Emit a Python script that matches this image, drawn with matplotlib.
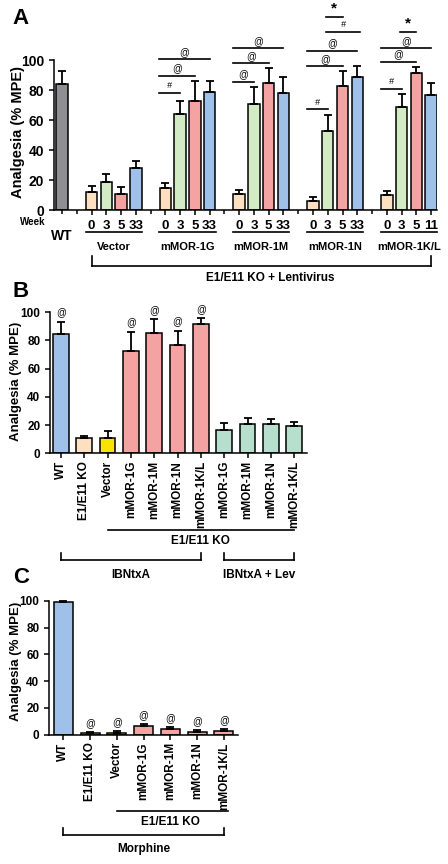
import matplotlib
matplotlib.use('Agg')
import matplotlib.pyplot as plt
import numpy as np
from matplotlib.transforms import blended_transform_factory

plt.rcParams['font.family'] = ['Liberation Sans', 'DejaVu Sans']
plt.rcParams['font.weight'] = 'bold'
plt.rcParams['axes.linewidth'] = 1.1

W, H = 448, 864

# ---------------- panel A data ----------------
groups_a = ["Vector", "mMOR-1G", "mMOR-1M", "mMOR-1N", "mMOR-1K/L"]
weeks = ["0", "3", "5", "33"]
weeks_kl = ["0", "3", "5", "11"]
wt_a_mean = 84
wt_a_err = 9
vec_mean = [12, 19, 11, 28]
vec_err = [4, 5, 4.5, 5]
g1_mean = [15, 64, 72.5, 79]
g1_err = [3, 9, 13.5, 7]
m1_mean = [11, 71, 85, 78]
m1_err = [2.5, 11, 10, 11]
n1_mean = [6, 52.5, 83, 89]
n1_err = [3, 11, 10, 7]
kl_mean = [10, 69, 91.5, 77]
kl_err = [2.5, 8.5, 4, 7.5]
# significance: (group, from bar, to bar, level, symbol)
sig_a = [
    (1, 0, 1, 78.2, "#"), (1, 0, 2, 89.5, "@"), (1, 0, 3, 100.4, "@"),
    (2, 0, 1, 85.5, "@"), (2, 0, 2, 97.8, "@"), (2, 0, 3, 107.8, "@"),
    (3, 0, 1, 67.1, "#"), (3, 0, 2, 96.0, "@"), (3, 0, 3, 106.2, "@"),
    (3, 1, 3, 118.9, "#"), (3, 1, 2, 128.4, "*"),
    (4, 0, 1, 80.9, "#"), (4, 0, 2, 98.9, "@"), (4, 0, 3, 107.8, "@"),
    (4, 1, 2, 118.4, "*"),
]

# ---------------- panel B data ----------------
labels_b = ["WT", "E1/E11 KO", "Vector", "mMOR-1G", "mMOR-1M", "mMOR-1N", "mMOR-1K/L",
            "mMOR-1G", "mMOR-1M", "mMOR-1N", "mMOR-1K/L"]
mean_b = [84.4, 11, 11, 72.8, 85.1, 77, 91.7, 16.5, 20.6, 20.6, 19.4]
err_b = [9, 1.5, 4.8, 13.4, 10.1, 10, 4, 4.8, 4.7, 3.5, 3]
at_b = [True, False, False, True, True, True, True, False, False, False, False]

# ---------------- panel C data ----------------
labels_c = ["WT", "E1/E11 KO", "Vector", "mMOR-1G", "mMOR-1M", "mMOR-1N", "mMOR-1K/L"]
mean_c = [99, 1.2, 1.5, 6.5, 4.2, 2, 2.8]
err_c = [0.7, 0.8, 1.5, 1.5, 1.3, 1.3, 1.3]
at_c = [False, True, True, True, True, True, True]

grey = "#8e8e93"
peach = "#fde0bf"
green = "#d3ebc4"
salmon = "#f4a2a2"
blue = "#9fc0e8"
yellow = "#f7e500"
mint = "#b6dfcd"
week_colors = [peach, green, salmon, blue]


def fy(y):
    return 1 - y / H


def add_ax(x0, y0, x1, y1):
    return fig.add_axes([x0 / W, 1 - y1 / H, (x1 - x0) / W, (y1 - y0) / H])


def style(ax, top=100):
    for s in ["top", "right"]:
        ax.spines[s].set_visible(False)
    ax.spines["left"].set_bounds(0, top)
    ax.tick_params(axis="both", length=3.5, width=1.1, direction="out")


def bars(ax, x, mean, err, colors, width):
    ax.bar(x, mean, width=width, color=colors, edgecolor="black", linewidth=1.1, zorder=2)
    ax.errorbar(x, mean, yerr=[np.zeros(len(mean)), err], fmt="none", ecolor="black",
                elinewidth=1.3, capsize=3, capthick=1.3, zorder=3, clip_on=False)


def hline(ax, x0, x1, ypx, ticks=None, lw=1.2):
    tr = blended_transform_factory(ax.transData, fig.transFigure)
    ax.plot([x0, x1], [fy(ypx), fy(ypx)], color="black", lw=lw, transform=tr, clip_on=False)
    if ticks is not None:
        for xx in (x0, x1):
            ax.plot([xx, xx], [fy(ypx), fy(ticks)], color="black", lw=lw, transform=tr,
                    clip_on=False)


def label(ax, x, ypx, text, size):
    tr = blended_transform_factory(ax.transData, fig.transFigure)
    ax.text(x, fy(ypx), text, transform=tr, ha="center", va="center", fontsize=size,
            fontweight="bold")


fig = plt.figure(figsize=(W / 100, H / 100), dpi=100)

# ================= A =================
axA = add_ax(54, 0, 437, 210)
means_a = [vec_mean, g1_mean, m1_mean, n1_mean, kl_mean]
errs_a = [vec_err, g1_err, m1_err, n1_err, kl_err]
bw = 0.78
bars(axA, [0], [wt_a_mean], [wt_a_err], [grey], bw)
xt, xl = [], []
for g in range(len(groups_a)):
    pos = np.arange(4) + 2 + 5 * g
    bars(axA, pos, means_a[g], errs_a[g], week_colors, bw)
    xt += list(pos)
    xl += weeks_kl if g == 4 else weeks
    hline(axA, pos[0] - 0.4, pos[-1] + 0.4, 232)
    label(axA, pos.mean(), 247.5, groups_a[g], 8)
axA.set_xlim(-0.54, 25.4)
axA.set_ylim(0, 140)
axA.set_yticks([0, 20, 40, 60, 80, 100])
axA.set_xticks(xt)
axA.set_xticklabels(xl, fontsize=9.5, fontweight="bold")
axA.set_xticks([0, 1, 6, 11, 16, 21], minor=True)
axA.tick_params(axis="x", which="both", length=3, width=1.1, pad=4)
axA.tick_params(axis="y", labelsize=10)
style(axA)
for g, b0, b1, lev, sym in sig_a:
    base = 2 + 5 * g
    x0 = base + b0 - (0.4 if b0 == 0 else 0.1)
    x1 = base + b1 + (0.2 if sym == "#" and b0 == 1 else 0)
    axA.plot([x0, x1], [lev, lev], color="black", lw=1.2, clip_on=False)
    if sym == "*":
        axA.text((x0 + x1) / 2, lev + 1.5, sym, ha="center", va="bottom", fontsize=11)
    elif sym == "#":
        axA.text((x0 + x1) / 2, lev + 1.8, sym, ha="center", va="bottom", fontsize=6.5,
                 fontweight="normal", style="italic")
    else:
        axA.text((x0 + x1) / 2, lev + 1.5, sym, ha="center", va="bottom", fontsize=7,
                 fontweight="normal")
fig.text(45 / W, fy(222), "Week", ha="right", va="center", fontsize=7)
label(axA, 0, 236, "WT", 10)
hline(axA, 2, 25, 266, ticks=256)
label(axA, 14.1, 278, "E1/E11 KO + Lentivirus", 8.5)
fig.text(18 / W, fy(132), "Analgesia (% MPE)", rotation=90, ha="center", va="center",
         fontsize=10.5)
fig.text(12 / W, fy(8), "A", ha="left", va="top", fontsize=16)

# ================= B =================
axB = add_ax(50, 312.3, 307, 453.3)
xb = np.arange(len(labels_b))
colors_b = [blue, peach, yellow] + [salmon] * 4 + [mint] * 4
bars(axB, xb, mean_b, err_b, colors_b, 0.67)
for i in range(len(xb)):
    if at_b[i]:
        axB.text(xb[i], mean_b[i] + err_b[i] + 3, "@", ha="center", va="bottom",
                 fontsize=7, fontweight="normal")
axB.set_xlim(-0.47, 10.55)
axB.set_ylim(0, 100)
axB.set_yticks([0, 20, 40, 60, 80, 100])
axB.set_xticks(xb)
axB.set_xticklabels(labels_b, rotation=90, fontsize=8.5, fontweight="bold")
axB.tick_params(axis="x", pad=2)
axB.tick_params(axis="y", labelsize=8.5)
style(axB)
hline(axB, 2, 10, 530)
label(axB, 6, 541, "E1/E11 KO", 8.5)
hline(axB, 0, 6, 560, ticks=552.5)
label(axB, 3, 575, "IBNtxA", 8.5)
hline(axB, 7, 10, 560, ticks=552.5)
label(axB, 8.5, 575, "IBNtxA + Lev", 8.5)
fig.text(15.5 / W, fy(381), "Analgesia (% MPE)", rotation=90, ha="center", va="center",
         fontsize=9.5)
fig.text(12 / W, fy(281), "B", ha="left", va="top", fontsize=16)

# ================= C =================
axC = add_ax(49, 600.7, 238, 734.7)
xc = np.arange(len(labels_c))
colors_c = [blue, peach, yellow] + [salmon] * 4
bars(axC, xc, mean_c, err_c, colors_c, 0.71)
for i in range(len(xc)):
    if at_c[i]:
        axC.text(xc[i], mean_c[i] + err_c[i] + 3, "@", ha="center", va="bottom",
                 fontsize=7, fontweight="normal")
axC.set_xlim(-0.54, 6.53)
axC.set_ylim(0, 100)
axC.set_yticks([0, 20, 40, 60, 80, 100])
axC.set_xticks(xc)
axC.set_xticklabels(labels_c, rotation=90, fontsize=8.5, fontweight="bold")
axC.tick_params(axis="x", pad=2)
axC.tick_params(axis="y", labelsize=8.5)
style(axC)
hline(axC, 2, 6.15, 811)
label(axC, 4, 822, "E1/E11 KO", 8.5)
hline(axC, 0, 6, 835, ticks=828)
label(axC, 3, 849, "Morphine", 8.5)
fig.text(16.5 / W, fy(661), "Analgesia (% MPE)", rotation=90, ha="center", va="center",
         fontsize=9.5)
fig.text(13 / W, fy(567), "C", ha="left", va="top", fontsize=16)

fig.savefig("out.png", dpi=100)
